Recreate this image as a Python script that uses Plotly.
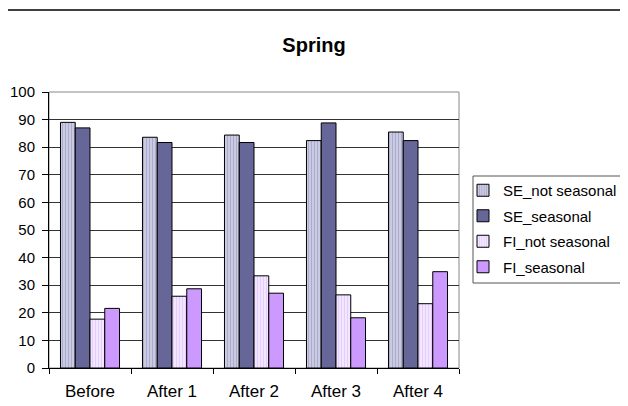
import plotly.graph_objects as go

categories = ["Before", "After 1", "After 2", "After 3", "After 4"]
se_not_seasonal = [89.0, 83.6, 84.4, 82.4, 85.5]
se_seasonal = [87.0, 81.7, 81.7, 88.8, 82.4]
fi_not_seasonal = [17.7, 26.0, 33.4, 26.5, 23.3]
fi_seasonal = [21.6, 28.7, 27.1, 18.2, 34.9]
series_names = ["SE_not seasonal", "SE_seasonal", "FI_not seasonal", "FI_seasonal"]

# page has an 8px body margin, so the figure is 8px smaller and offsets shift
W, H = 620, 398
L, T = 41, 84
plot_w, plot_h = 410, 276
R = W - L - plot_w
B = H - T - plot_h


def px_x(fx):
    return (fx - L) / plot_w


def px_y(fy):
    return (T + plot_h - fy) / plot_h


fig = go.Figure()
styles = [
    dict(color="white", line=dict(color="black", width=1),
         pattern=dict(shape="|", fgcolor="#666699", bgcolor="#f0f0ff", size=3, solidity=0.7)),
    dict(color="#666699", line=dict(color="black", width=1)),
    dict(color="white", line=dict(color="black", width=1),
         pattern=dict(shape="|", fgcolor="#cc99ff", bgcolor="#ffffff", size=3, solidity=0.65)),
    dict(color="#cc99ff", line=dict(color="black", width=1)),
]
for i, (name, vals) in enumerate(zip(series_names, [se_not_seasonal, se_seasonal, fi_not_seasonal, fi_seasonal])):
    fig.add_trace(go.Bar(x=categories, y=vals, name=name, marker=styles[i], legendgroup=f"g{i}"))

fig.update_layout(
    width=W, height=H,
    margin=dict(l=L, r=R, t=T, b=B, autoexpand=False),
    paper_bgcolor="white", plot_bgcolor="white",
    font=dict(family="Liberation Sans, Arial, sans-serif", size=17, color="black"),
    barmode="group", bargap=0.28, bargroupgap=0,
    title=dict(text="<b>Spring</b>", x=306 / W, xref="container", xanchor="center",
               yref="container", y=1 - 37 / H, yanchor="middle", font=dict(size=20)),
    showlegend=True,
    legend=dict(x=px_x(455), xanchor="left", y=px_y(166), yanchor="top",
                borderwidth=0, bgcolor="rgba(0,0,0,0)",
                tracegroupgap=3, font=dict(size=15)),
    xaxis=dict(showline=True, linecolor="black", linewidth=1, ticks="outside",
               tickson="boundaries", ticklen=5, tickcolor="black", showgrid=False,
               ticklabelstandoff=8),
    yaxis=dict(range=[0, 100], dtick=10, showline=True, linecolor="black", linewidth=1,
               ticks="outside", ticklen=6, tickcolor="black", showgrid=True,
               gridcolor="#333333", gridwidth=1, zeroline=False, ticklabelstandoff=4,
               tickfont=dict(size=15)),
    shapes=[
        dict(type="rect", xref="paper", yref="paper", x0=0, x1=1, y0=0, y1=1,
             line=dict(color="#888888", width=1), fillcolor="rgba(0,0,0,0)", layer="below"),
        dict(type="line", xref="paper", yref="paper", x0=px_x(0), x1=px_x(W),
             y0=px_y(2), y1=px_y(2), line=dict(color="black", width=1.5)),
        dict(type="rect", xref="paper", yref="paper", x0=px_x(465), x1=px_x(W + 20),
             y0=px_y(275), y1=px_y(168), line=dict(color="#555555", width=1),
             fillcolor="rgba(0,0,0,0)"),
    ],
)

fig.write_html("out.html")
